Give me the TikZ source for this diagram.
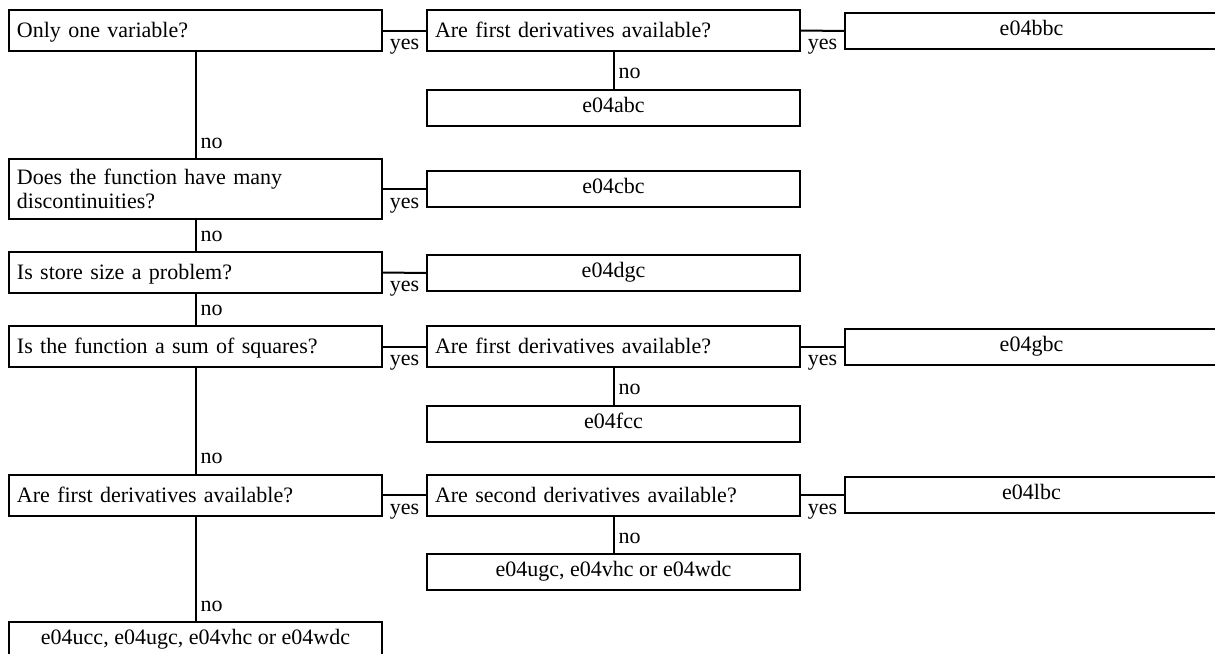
\documentclass[tikz,border=0pt]{standalone}
\usepackage{fontspec}
\setmainfont{Liberation Serif}
\hyphenpenalty=10000
\tikzset{
	box/.style={draw, minimum width=186.5pt, inner sep=0pt},
	oneline/.style={text height=0.9em, text depth=0.2em},
	ask/.style={box, text width=178.5pt, align=left, inner xsep=4pt, minimum height=20.5pt},
	answer/.style={box, text height=0.7em, text depth=0.25em, align=center, minimum height=18pt},
	yeslabel/.style={anchor=base, yshift=-9.5pt, inner sep=0pt},
	nolabel/.style={anchor=base west, xshift=2pt, yshift=5pt, inner sep=0pt}
}

\begin{document}
\begin{tikzpicture}[x=0.5pt, y=-0.5pt, line width=1pt,
	font=\fontsize{11pt}{11.8pt}\selectfont]
	\useasboundingbox (0,0) rectangle (1215,653);

	%first column: the questions
	\node[ask, oneline] (q1) at (195.5,30.5) {Only one variable?};
	\node[ask, minimum height=30pt] (q2) at (195.5,189) {Does the function have many discontinuities?};
	\node[ask, oneline] (q3) at (195.5,272.5) {Is store size a problem?};
	\node[ask, oneline] (q4) at (195.5,346.5) {Is the function a sum of squares?};
	\node[ask, oneline] (q5) at (195.5,495) {Are first derivatives available?};
	\node[answer] (r9) at (195.5,640) {e04ucc, e04ugc, e04vhc or e04wdc};

	%second column
	\node[ask, oneline] (q1b) at (613.5,30.5) {Are first derivatives available?};
	\node[answer] (r2) at (613.5,107.5) {e04abc};
	\node[answer] (r3) at (613.5,189) {e04cbc};
	\node[answer] (r4) at (613.5,273) {e04dgc};
	\node[ask, oneline] (q4b) at (613.5,346.5) {Are first derivatives available?};
	\node[answer] (r6) at (613.5,423.5) {e04fcc};
	\node[ask, oneline] (q5b) at (613.5,495) {Are second derivatives available?};
	\node[answer] (r8) at (613.5,572) {e04ugc, e04vhc or e04wdc};

	%third column
	\node[answer] (r1) at (1031.5,31) {e04bbc};
	\node[answer] (r5) at (1031.5,346.5) {e04gbc};
	\node[answer] (r7) at (1031.5,495) {e04lbc};

	%yes branches
	\foreach \a/\b in {q1/q1b,q1b/r1,q2/r3,q3/r4,q4/q4b,q4b/r5,q5/q5b,q5b/r7}{
		\draw (\a.east) -- node[yeslabel] (y-\a) {yes} (\b.west);
	}

	%no branches
	\foreach \a/\b in {q1/q2,q2/q3,q3/q4,q4/q5,q5/r9,q1b/r2,q4b/r6,q5b/r8}{
		\draw (\a.south) -- (\b.north) node[nolabel] (n-\a) {no};
	}

\end{tikzpicture}
\end{document}
